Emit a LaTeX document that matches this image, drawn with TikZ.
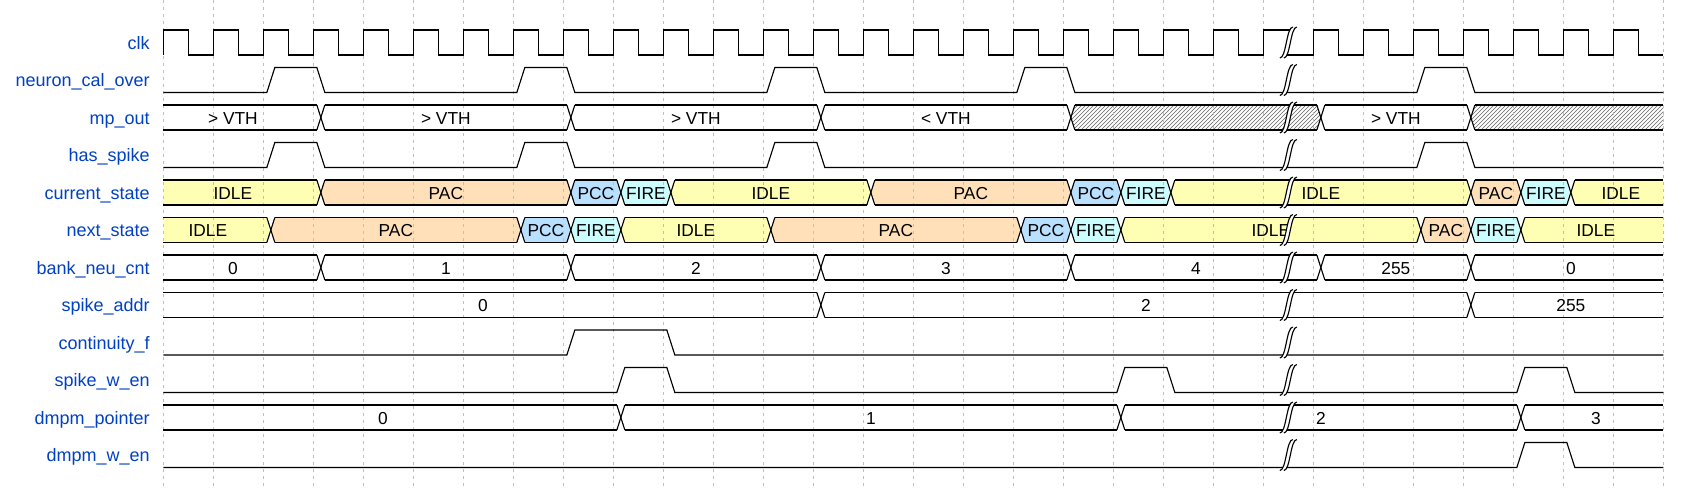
\documentclass[tikz,border=0pt]{standalone}
\usepackage{fontspec}
\setmainfont{Liberation Sans}
\usetikzlibrary{patterns}
\definecolor{lbl}{HTML}{0041C4}
\definecolor{cidle}{HTML}{FFFFB4}
\definecolor{cpac}{HTML}{FFE0B9}
\definecolor{cpcc}{HTML}{B9E0FF}
\definecolor{cfire}{HTML}{CCFDFE}
\pgfdeclarelayer{bg}
\pgfdeclarelayer{fills}
\pgfdeclarelayer{grid}
\pgfdeclarelayer{top}
\pgfsetlayers{bg,fills,grid,main,top}
\tikzset{
  wave/.style={line width=0.85pt, black, line join=miter},
  gapline/.style={line width=0.85pt, black},
  grid line/.style={black!25, line width=0.7pt, dash pattern=on 2.25pt off 3pt},
  sig label/.style={anchor=base east, text=lbl, font=\fontsize{13.5}{16}\selectfont, inner sep=0pt},
  data text/.style={anchor=base, font=\fontsize{13}{15}\selectfont, inner sep=0pt},
  hatch/.style={pattern=north east lines, pattern color=black!60},
}
\newcommand\rowT[1]{%
  \pgfmathsetmacro\yT{30+37.5*#1}%
  \pgfmathsetmacro\yM{\yT+12.5}%
  \pgfmathsetmacro\yB{\yT+25}}
% data segment: row, from cycle, to cycle, fill, text
\newcommand\dseg[5]{%
  \rowT{#1}%
  \pgfmathsetmacro\wxa{163.333+50*#2}%
  \pgfmathsetmacro\wxb{163.333+50*#3}%
  \ifnum#2=0\relax
    \pgfmathsetmacro\wla{\wxa}\pgfmathsetmacro\wlm{\wxa}\def\wtl{145}%
  \else
    \pgfmathsetmacro\wla{\wxa+11.5}\pgfmathsetmacro\wlm{\wxa+7.5}\pgfmathsetmacro\wtl{\wxa+7.5}%
  \fi
  \ifnum#3=30\relax
    \pgfmathsetmacro\wrb{\wxb}\pgfmathsetmacro\wrm{\wxb}%
  \else
    \pgfmathsetmacro\wrb{\wxb+3.5}\pgfmathsetmacro\wrm{\wxb+7.5}%
  \fi
  \pgfmathsetmacro\wcx{(\wtl+\wxb+7.5)/2}%
  \begin{pgfonlayer}{fills}
    \fill[#4] (\wlm,\yM) -- (\wla,\yT) -- (\wrb,\yT) -- (\wrm,\yM) -- (\wrb,\yB) -- (\wla,\yB) -- cycle;
  \end{pgfonlayer}
  \draw[wave] (\wla,\yT) -- (\wrb,\yT);
  \draw[wave] (\wla,\yB) -- (\wrb,\yB);
  \ifnum#2>0\relax \draw[wave] (\wla,\yT) -- (\wlm,\yM) -- (\wla,\yB); \fi
  \ifnum#3<30\relax \draw[wave] (\wrb,\yT) -- (\wrm,\yM) -- (\wrb,\yB); \fi
  \if\relax\detokenize{#5}\relax\else
    \node[data text] (d#1x#2) at (\wcx,{\yT+19}) {#5};
  \fi}
% digital signal: row, list of high intervals a/b
\newcommand\dig[2]{%
  \rowT{#1}%
  \draw[wave] (163.333,\yB) \foreach \a/\b in {#2} {
    -- ({163.333+50*\a+3.5},\yB) -- ({163.333+50*\a+11.5},\yT)
    -- ({163.333+50*\b+3.5},\yT) -- ({163.333+50*\b+11.5},\yB) } -- (1663.333,\yB);}
% break mark
\newcommand\gapmark[1]{%
  \rowT{#1}%
  \begin{pgfonlayer}{top}
  \fill[white] (1279.833,{\yB+3}) .. controls (1286.333,{\yB+3}) and (1286.333,{\yT-3}) .. (1292.833,{\yT-3})
     -- (1296.833,{\yT-3}) .. controls (1290.333,{\yT-3}) and (1290.333,{\yB+3}) .. (1283.833,{\yB+3}) -- cycle;
  \draw[gapline] (1279.833,{\yB+3}) .. controls (1286.333,{\yB+3}) and (1286.333,{\yT-3}) .. (1292.833,{\yT-3});
  \draw[gapline] (1283.833,{\yB+3}) .. controls (1290.333,{\yB+3}) and (1290.333,{\yT-3}) .. (1296.833,{\yT-3});
  \end{pgfonlayer}}
\begin{document}
\begin{tikzpicture}[x={(0.75pt,0)}, y={(0,-0.75pt)}]
\useasboundingbox (0,0) rectangle (1683,487);
\begin{pgfonlayer}{bg}
  \fill[white] (0,0) rectangle (1683,487);
\end{pgfonlayer}
% grid
\begin{pgfonlayer}{grid}
  \foreach \n in {0,...,30} \draw[grid line] ({163.333+50*\n},0) -- ({163.333+50*\n},487);
\end{pgfonlayer}
% labels
\foreach \i/\t in {0/clk,1/neuron\_cal\_over,2/mp\_out,3/has\_spike,4/current\_state,5/next\_state,
  6/bank\_neu\_cnt,7/spike\_addr,8/continuity\_f,9/spike\_w\_en,10/dmpm\_pointer,11/dmpm\_w\_en}
  \node[sig label] (l\i) at (150,{30+37.5*\i+19}) {\t};
% clk
\rowT{0}
\draw[wave] (163.333,\yB) \foreach \n in {0,...,21} { -- ++(0,-25) -- ++(25,0) -- ++(0,25) -- ++(25,0) }
  -- ++(0,-25) -- ++(28,0);
\draw[wave] (1285.333,\yB) -- (1313.333,\yB) \foreach \n in {23,...,29} { -- ++(0,-25) -- ++(25,0) -- ++(0,25) -- ++(25,0) };
% digital signals
\dig{1}{2/3,7/8,12/13,17/18,25/26}
\dig{3}{2/3,7/8,12/13,25/26}
\dig{8}{8/10}
\dig{9}{9/10,19/20,27/28}
\dig{11}{27/28}
% mp_out
\dseg{2}{0}{3}{white}{> VTH}
\dseg{2}{3}{8}{white}{> VTH}
\dseg{2}{8}{13}{white}{> VTH}
\dseg{2}{13}{18}{white}{< VTH}
\dseg{2}{18}{23}{hatch}{}
\dseg{2}{23}{26}{white}{> VTH}
\dseg{2}{26}{30}{hatch}{}
% current_state
\dseg{4}{0}{3}{cidle}{IDLE}
\dseg{4}{3}{8}{cpac}{PAC}
\dseg{4}{8}{9}{cpcc}{PCC}
\dseg{4}{9}{10}{cfire}{FIRE}
\dseg{4}{10}{14}{cidle}{IDLE}
\dseg{4}{14}{18}{cpac}{PAC}
\dseg{4}{18}{19}{cpcc}{PCC}
\dseg{4}{19}{20}{cfire}{FIRE}
\dseg{4}{20}{26}{cidle}{IDLE}
\dseg{4}{26}{27}{cpac}{PAC}
\dseg{4}{27}{28}{cfire}{FIRE}
\dseg{4}{28}{30}{cidle}{IDLE}
% next_state
\dseg{5}{0}{2}{cidle}{IDLE}
\dseg{5}{2}{7}{cpac}{PAC}
\dseg{5}{7}{8}{cpcc}{PCC}
\dseg{5}{8}{9}{cfire}{FIRE}
\dseg{5}{9}{12}{cidle}{IDLE}
\dseg{5}{12}{17}{cpac}{PAC}
\dseg{5}{17}{18}{cpcc}{PCC}
\dseg{5}{18}{19}{cfire}{FIRE}
\dseg{5}{19}{25}{cidle}{IDLE}
\dseg{5}{25}{26}{cpac}{PAC}
\dseg{5}{26}{27}{cfire}{FIRE}
\dseg{5}{27}{30}{cidle}{IDLE}
% bank_neu_cnt
\dseg{6}{0}{3}{white}{0}
\dseg{6}{3}{8}{white}{1}
\dseg{6}{8}{13}{white}{2}
\dseg{6}{13}{18}{white}{3}
\dseg{6}{18}{23}{white}{4}
\dseg{6}{23}{26}{white}{255}
\dseg{6}{26}{30}{white}{0}
% spike_addr
\dseg{7}{0}{13}{white}{0}
\dseg{7}{13}{26}{white}{2}
\dseg{7}{26}{30}{white}{255}
% dmpm_pointer
\dseg{10}{0}{9}{white}{0}
\dseg{10}{9}{19}{white}{1}
\dseg{10}{19}{27}{white}{2}
\dseg{10}{27}{30}{white}{3}
% break marks
\foreach \r in {0,...,11} {\gapmark{\r}}
\end{tikzpicture}
\end{document}
